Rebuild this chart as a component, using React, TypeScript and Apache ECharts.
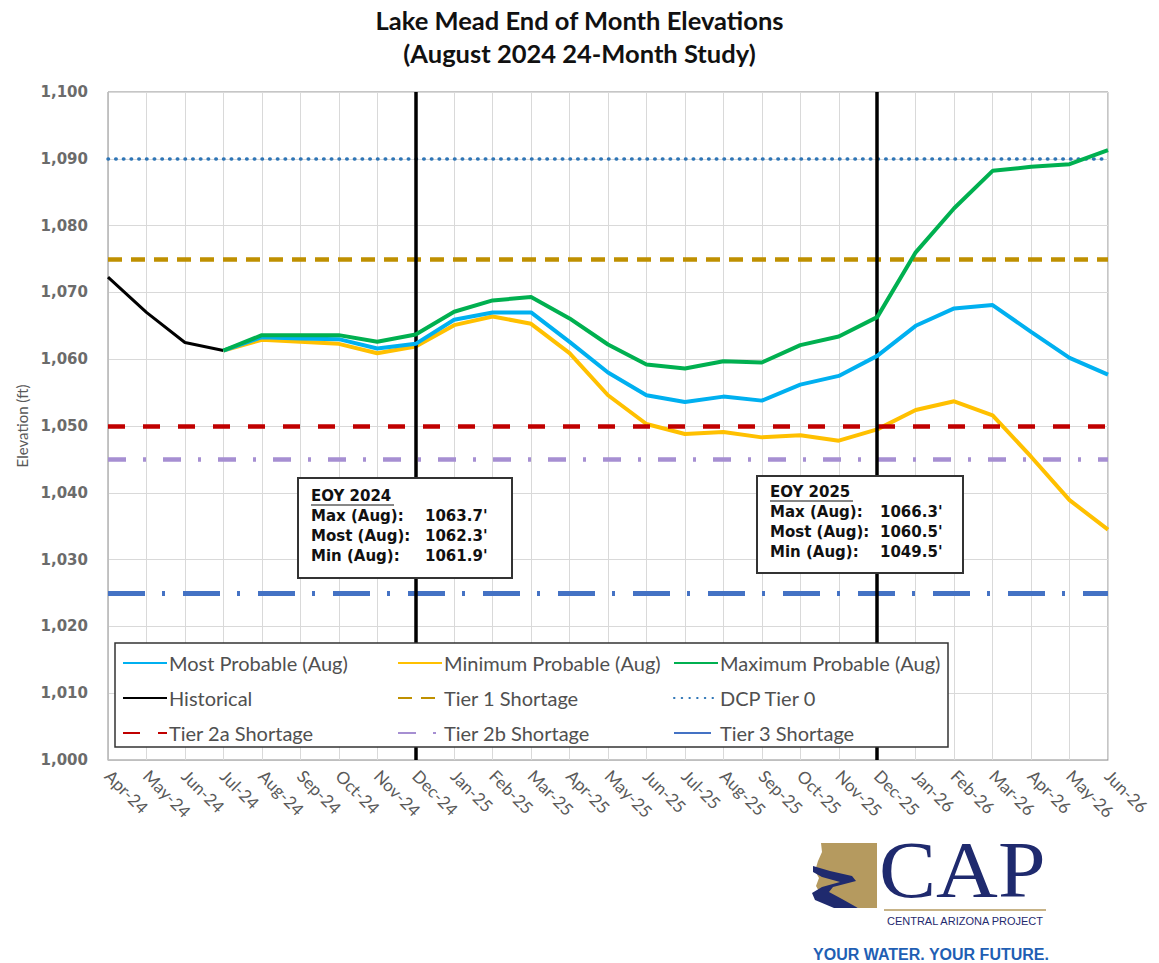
import React, { useEffect, useRef } from "react";
import * as echarts from "echarts";

const months = [
  "Apr-24", "May-24", "Jun-24", "Jul-24", "Aug-24", "Sep-24", "Oct-24", "Nov-24", "Dec-24",
  "Jan-25", "Feb-25", "Mar-25", "Apr-25", "May-25", "Jun-25", "Jul-25", "Aug-25", "Sep-25",
  "Oct-25", "Nov-25", "Dec-25", "Jan-26", "Feb-26", "Mar-26", "Apr-26", "May-26", "Jun-26",
];

const historical = [1072.3, 1067.0, 1062.5, 1061.3, null, null, null, null, null, null, null, null, null, null, null, null, null, null, null, null, null, null, null, null, null, null, null];
const mostProbable = [null, null, null, 1061.3, 1063.3, 1063.1, 1063.0, 1061.6, 1062.3, 1065.9, 1067.0, 1067.0, 1062.6, 1058.0, 1054.6, 1053.6, 1054.4, 1053.8, 1056.2, 1057.5, 1060.5, 1065.0, 1067.6, 1068.1, 1064.1, 1060.2, 1057.7];
const minProbable = [null, null, null, 1061.3, 1062.9, 1062.6, 1062.3, 1060.9, 1061.9, 1065.1, 1066.4, 1065.3, 1060.9, 1054.6, 1050.3, 1048.8, 1049.1, 1048.3, 1048.6, 1047.8, 1049.5, 1052.4, 1053.7, 1051.6, 1045.4, 1038.9, 1034.5];
const maxProbable = [null, null, null, 1061.3, 1063.6, 1063.6, 1063.6, 1062.6, 1063.7, 1067.1, 1068.8, 1069.3, 1066.1, 1062.2, 1059.2, 1058.6, 1059.7, 1059.5, 1062.1, 1063.4, 1066.3, 1076.0, 1082.6, 1088.2, 1088.8, 1089.2, 1091.3];

const dcpTier0 = 1090;
const tier1 = 1075;
const tier2a = 1050;
const tier2b = 1045;
const tier3 = 1025;

const eoyMonths = ["Dec-24", "Dec-25"];
const eoy2024 = [1063.7, 1062.3, 1061.9];
const eoy2025 = [1066.3, 1060.5, 1049.5];
const eoyLabels = ["Max (Aug):", "Most (Aug):", "Min (Aug):"];

const yTicks = { min: 1000, max: 1100, interval: 10 };

const FONT = "Lato, 'Noto Sans', sans-serif";
const BOXFONT = "'DejaVu Sans', Verdana, sans-serif";
const TOPZ = 100;

function thresholdSeries(name: string, value: number, color: string, width: number, dash: number[], cap: string = "butt") {
  const ls = { color, width, type: dash, cap };
  return {
    name,
    type: "line",
    data: [],
    symbol: "none",
    lineStyle: ls,
    itemStyle: { color },
    z: 2,
    markLine: {
      silent: true,
      symbol: ["none", "none"],
      label: { show: false },
      lineStyle: ls,
      data: [{ yAxis: value }],
      animation: false,
    },
  };
}

function eoyBox(x: number, y: number, w: number, h: number, title: string, vals: number[], valX: number, rowY: number[]) {
  const font = `bold 15px ${BOXFONT}`;
  const children: any[] = [
    {
      type: "rect",
      z: TOPZ,
      shape: { x: 0, y: 0, width: w, height: h },
      style: { fill: "#fff", stroke: "#333", lineWidth: 2 },
    },
    {
      type: "text",
      z: TOPZ + 1,
      x: 13,
      y: rowY[0],
      style: { text: title, font, fill: "#111", verticalAlign: "middle" },
    },
    {
      type: "line",
      z: TOPZ + 1,
      shape: { x1: 13, y1: rowY[0] + 9, x2: 96, y2: rowY[0] + 9 },
      style: { stroke: "#111", lineWidth: 1.2 },
    },
  ];
  vals.forEach((v, i) => {
    children.push({
      type: "text",
      z: TOPZ + 1,
      x: 13,
      y: rowY[i + 1],
      style: { text: eoyLabels[i], font, fill: "#111", verticalAlign: "middle" },
    });
    children.push({
      type: "text",
      z: TOPZ + 1,
      x: valX,
      y: rowY[i + 1],
      style: { text: v.toFixed(1) + "'", font, fill: "#111", verticalAlign: "middle" },
    });
  });
  return { type: "group", x, y, z: TOPZ, children };
}

export default function App() {
  const ref = useRef<HTMLDivElement>(null);
  useEffect(() => {
    if (!ref.current) return;
    const chart = echarts.init(ref.current, null, { renderer: "svg" });
    const legendCommon = {
      orient: "vertical",
      itemWidth: 44,
      itemHeight: 16,
      itemGap: 15,
      padding: 0,
      top: 653,
      selectedMode: false,
      itemStyle: { opacity: 0, color: "rgba(0,0,0,0)", borderWidth: 0 },
      textStyle: { fontFamily: FONT, fontSize: 20, lineHeight: 16, color: "#505050", padding: [0, 0, 0, -3] },
      z: 110,
    };
    const option: any = {
      animation: false,
      backgroundColor: "#fff",
      title: {
        text: "Lake Mead End of Month Elevations\n(August 2024 24-Month Study)",
        left: "center",
        top: -2,
        textStyle: { fontFamily: FONT, fontSize: 25.5, fontWeight: "bold", color: "#111", lineHeight: 33 },
      },
      grid: { left: 108, right: 51, top: 92, bottom: 203, show: true, borderColor: "#8c8c8c", borderWidth: 1, backgroundColor: "transparent" },
      legend: [
        { ...legendCommon, left: 122, data: ["Most Probable (Aug)", "Historical", "Tier 2a Shortage"] },
        { ...legendCommon, left: 397, data: ["Minimum Probable (Aug)", "Tier 1 Shortage", "Tier 2b Shortage"] },
        { ...legendCommon, left: 673, data: ["Maximum Probable (Aug)", "DCP Tier 0", "Tier 3 Shortage"] },
      ],
      xAxis: {
        type: "category",
        data: months,
        boundaryGap: false,
        axisLine: { lineStyle: { color: "#bfbfbf", width: 1 } },
        axisTick: { show: false },
        splitLine: { show: true, lineStyle: { color: "#d9d9d9", width: 1 } },
        axisLabel: { rotate: -45, interval: 0, margin: 13, fontFamily: FONT, fontSize: 17, color: "#595959" },
      },
      yAxis: {
        type: "value",
        min: yTicks.min,
        max: yTicks.max,
        interval: yTicks.interval,
        name: "Elevation (ft)",
        nameLocation: "middle",
        nameGap: 77,
        nameTextStyle: { fontFamily: FONT, fontSize: 15, color: "#595959" },
        axisLine: { show: true, lineStyle: { color: "#bfbfbf" } },
        axisTick: { show: false },
        splitLine: { lineStyle: { color: "#d9d9d9", width: 1 } },
        axisLabel: {
          margin: 20,
          fontFamily: BOXFONT,
          fontWeight: "bold",
          fontSize: 15,
          color: "#6b6b6b",
          formatter: (v: number) => v.toLocaleString("en-US"),
        },
      },
      series: [
        thresholdSeries("DCP Tier 0", dcpTier0, "#2e75b6", 3.5, [0.5, 7.2], "round"),
        thresholdSeries("Tier 1 Shortage", tier1, "#bf9000", 4.5, [14, 9]),
        thresholdSeries("Tier 2a Shortage", tier2a, "#c00000", 4.5, [17, 18]),
        thresholdSeries("Tier 2b Shortage", tier2b, "#a68fd2", 4.5, [18, 17, 3, 17]),
        thresholdSeries("Tier 3 Shortage", tier3, "#4472c4", 5, [37, 17, 3, 18]),
        {
          name: "eoy",
          type: "line",
          data: [],
          symbol: "none",
          z: 3,
          markLine: {
            silent: true,
            symbol: ["none", "none"],
            label: { show: false },
            lineStyle: { color: "#000", width: 3.5, type: "solid" },
            data: eoyMonths.map((m) => ({ xAxis: m })),
          },
        },
        { name: "Historical", type: "line", data: historical, symbol: "none", lineStyle: { color: "#000", width: 3 }, itemStyle: { color: "#000" }, z: 4 },
        { name: "Minimum Probable (Aug)", type: "line", data: minProbable, symbol: "none", lineStyle: { color: "#ffc000", width: 4 }, itemStyle: { color: "#ffc000" }, z: 4 },
        { name: "Most Probable (Aug)", type: "line", data: mostProbable, symbol: "none", lineStyle: { color: "#00b0f0", width: 4 }, itemStyle: { color: "#00b0f0" }, z: 5 },
        { name: "Maximum Probable (Aug)", type: "line", data: maxProbable, symbol: "none", lineStyle: { color: "#00b050", width: 4 }, itemStyle: { color: "#00b050" }, z: 6 },
      ],
      graphic: [
        {
          type: "rect",
          z: TOPZ,
          shape: { x: 115, y: 643, width: 833, height: 104 },
          style: { fill: "#fff", stroke: "#333", lineWidth: 1.5 },
        },
        eoyBox(298, 478, 214, 100, "EOY 2024", eoy2024, 127, [18, 38, 58, 78]),
        eoyBox(757, 476, 206, 97, "EOY 2025", eoy2025, 123, [16, 36, 56, 76]),
        {
          type: "group",
          z: TOPZ,
          children: [
            {
              type: "polygon",
              z: TOPZ,
              shape: { points: [[821, 843], [877, 843], [877, 908], [858, 908], [820, 893], [816, 886], [819, 878], [815, 871], [818, 861], [822, 852]] },
              style: { fill: "#b59a5f" },
            },
            {
              type: "polygon",
              z: TOPZ + 1,
              shape: { points: [[813, 866], [830, 871], [852, 876], [856, 881], [833, 887], [829, 892], [842, 899], [858, 908], [834, 908], [815, 900], [812, 893], [822, 887], [840, 882], [822, 877], [813, 872]] },
              style: { fill: "#1f2a6e" },
            },
            {
              type: "text",
              z: TOPZ,
              x: 879,
              y: 870,
              scaleX: 1.07,
              style: { text: "CAP", font: "80px 'Liberation Serif', 'DejaVu Serif', serif", fill: "#1f2a6e", verticalAlign: "middle" },
            },
            {
              type: "line",
              z: TOPZ,
              shape: { x1: 884, y1: 910, x2: 1046, y2: 910 },
              style: { stroke: "#b59a5f", lineWidth: 1.5 },
            },
            {
              type: "text",
              z: TOPZ,
              x: 965,
              y: 921,
              style: { text: "CENTRAL ARIZONA PROJECT", font: "11px 'Liberation Sans', Arial, sans-serif", fill: "#1f2a6e", align: "center", verticalAlign: "middle" },
            },
            {
              type: "text",
              z: TOPZ,
              x: 931,
              y: 954,
              style: { text: "YOUR WATER. YOUR FUTURE.", font: "bold 16px 'Liberation Sans', Arial, sans-serif", fill: "#1f5fb4", align: "center", verticalAlign: "middle" },
            },
          ],
        },
      ],
    };
    chart.setOption(option);
    return () => chart.dispose();
  }, []);
  return (
    <div
      ref={ref}
      style={{ position: "fixed", left: 0, top: 0, width: 1159, height: 963, background: "#fff" }}
    />
  );
}
